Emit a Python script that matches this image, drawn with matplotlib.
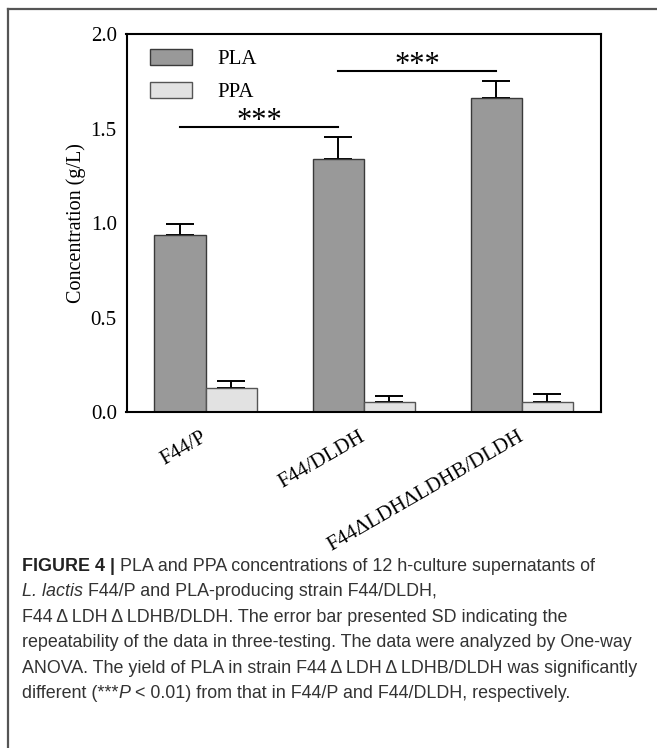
import numpy as np
import matplotlib
matplotlib.use('Agg')
import matplotlib.pyplot as plt
from matplotlib.lines import Line2D

# 数据
strains = ['F44/P', 'F44/DLDH', 'F44ΔLDHΔLDHB/DLDH']
pla = [0.938, 1.339, 1.663]
pla_err = [0.060, 0.115, 0.092]
ppa = [0.129, 0.055, 0.056]
ppa_err = [0.035, 0.030, 0.040]
sig_pairs = [(0, 1), (1, 2)]
sig_heights = [1.51, 1.807]
sig_labels = ['***', '***']

serif = ['Liberation Serif', 'DejaVu Serif']
sans = ['Liberation Sans', 'DejaVu Sans']

W, H = 657, 748
fig = plt.figure(figsize=(W / 100, H / 100), dpi=100)
ax = fig.add_axes([126.5 / W, 1 - 412.3 / H, (601 - 126.5) / W, (412.3 - 34.3) / H])

x = np.arange(len(strains))
w = 0.323
ax.bar(x - w / 2, pla, w, color='#999999', edgecolor='#3a3a3a', linewidth=1.0,
       label='PLA', zorder=2)
ax.bar(x + w / 2, ppa, w, color='#e2e2e2', edgecolor='#555555', linewidth=1.0,
       label='PPA', zorder=2)
ax.errorbar(x - w / 2, pla, yerr=[np.zeros(3), pla_err], fmt='none', ecolor='black',
            elinewidth=1.4, capsize=9.8, capthick=1.4, zorder=1)
ax.errorbar(x + w / 2, ppa, yerr=[np.zeros(3), ppa_err], fmt='none', ecolor='black',
            elinewidth=1.4, capsize=9.8, capthick=1.4, zorder=1)

# 显著性标记
for (i, j), h, s in zip(sig_pairs, sig_heights, sig_labels):
    x1, x2 = x[i] - w / 2, x[j] - w / 2
    ax.plot([x1, x2], [h, h], color='black', lw=1.5)
    ax.text((x1 + x2) / 2, h - 0.012, s, ha='center', va='baseline',
            fontsize=22, family=serif)

ax.set_xlim(-0.5, 2.5)
ax.set_ylim(0, 2.0)
ax.set_yticks([0, 0.5, 1.0, 1.5, 2.0])
ax.set_yticklabels(['0.0', '0.5', '1.0', '1.5', '2.0'], family=serif, fontsize=15)
ax.set_xticks(x)
ax.set_xticklabels(strains, family=serif, fontsize=15, rotation=30, ha='right',
                   va='center', rotation_mode='anchor')
ax.tick_params(axis='both', length=0, pad=7)
ax.tick_params(axis='x', pad=17)
for sp in ax.spines.values():
    sp.set_linewidth(1.5)
    sp.set_color('black')
ax.set_ylabel('Concentration (g/L)', family=serif, fontsize=14.5, labelpad=3)

leg = ax.legend(loc='upper left', bbox_to_anchor=(0.0495, 0.962), frameon=False,
                prop={'family': serif, 'size': 15}, handlelength=2.0, handleheight=0.85,
                handletextpad=1.25, labelspacing=0.6, borderpad=0, borderaxespad=0)

# 外框
fig.add_artist(Line2D([8 / W, 1], [1 - 9 / H, 1 - 9 / H], transform=fig.transFigure,
                      color='#555555', lw=1.6))
fig.add_artist(Line2D([8 / W, 8 / W], [1 - 9 / H, 0], transform=fig.transFigure,
                      color='#555555', lw=1.6))

# 图注
caption = [
    [('FIGURE 4 |', 'bold', 'normal', '#222222'),
     (' PLA and PPA concentrations of 12 h-culture supernatants of', 'normal', 'normal', '#333333')],
    [('L. lactis', 'normal', 'italic', '#333333'),
     (' F44/P and PLA-producing strain F44/DLDH,', 'normal', 'normal', '#333333')],
    [('F44\u2009Δ\u2009LDH\u2009Δ\u2009LDHB/DLDH. The error bar presented SD indicating the', 'normal', 'normal', '#333333')],
    [('repeatability of the data in three-testing. The data were analyzed by One-way', 'normal', 'normal', '#333333')],
    [('ANOVA. The yield of PLA in strain F44\u2009Δ\u2009LDH\u2009Δ\u2009LDHB/DLDH was significantly', 'normal', 'normal', '#333333')],
    [('different (***', 'normal', 'normal', '#333333'), ('P', 'normal', 'italic', '#333333'),
     (' < 0.01) from that in F44/P and F44/DLDH, respectively.', 'normal', 'normal', '#333333')],
]
renderer = fig.canvas.get_renderer()
base_y = 571
for k, line in enumerate(caption):
    px = 22
    py = base_y + k * 25.4
    for txt, wt, st, col in line:
        t = fig.text(px / W, 1 - py / H, txt, ha='left', va='baseline', fontsize=12.9,
                     family=sans, weight=wt, style=st, color=col)
        px += t.get_window_extent(renderer).width

fig.savefig('out.png', dpi=100)
